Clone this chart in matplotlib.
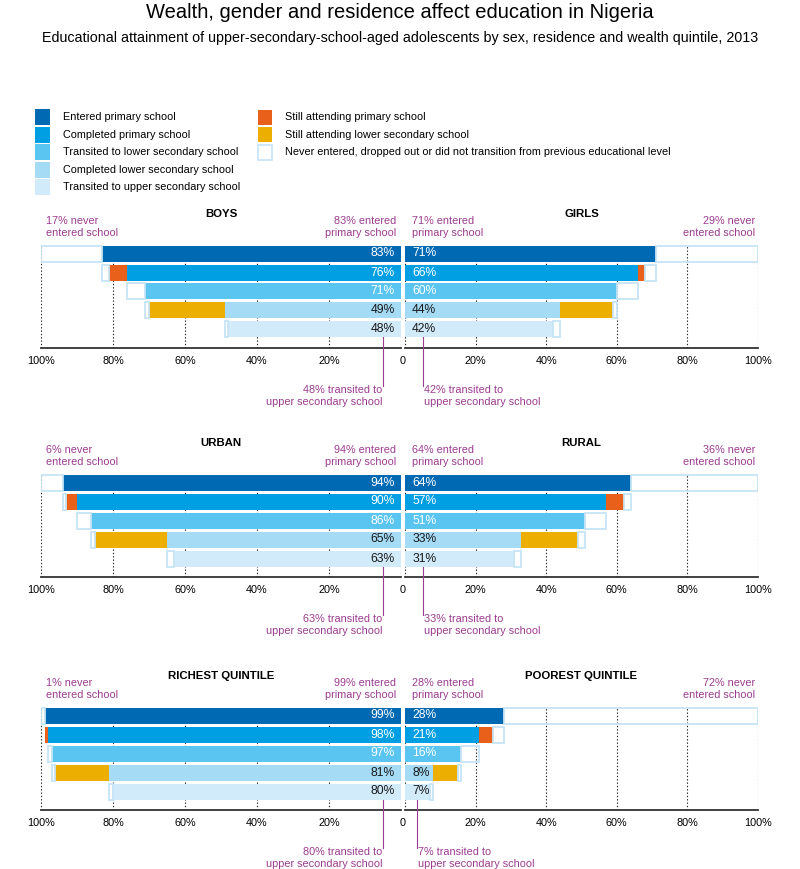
import matplotlib
matplotlib.use('Agg')
import matplotlib.pyplot as plt
from matplotlib.patches import Rectangle

plt.rcParams['font.family'] = ['Liberation Sans', 'DejaVu Sans']

# data (percent)
groups = ['BOYS', 'GIRLS', 'URBAN', 'RURAL', 'RICHEST QUINTILE', 'POOREST QUINTILE']
entered_primary = [83, 71, 94, 64, 99, 28]
completed_primary = [76, 66, 90, 57, 98, 21]
attending_primary = [5, 2, 3, 5, 1, 4]
transited_lower = [71, 60, 86, 51, 97, 16]
completed_lower = [49, 44, 65, 33, 81, 8]
attending_lower = [21, 15, 20, 16, 15, 7]
transited_upper = [48, 42, 63, 31, 80, 7]
# values as printed in the callouts under each panel
transited_note = [48, 42, 63, 33, 80, 7]

legend_left = ['Entered primary school', 'Completed primary school',
               'Transited to lower secondary school', 'Completed lower secondary school',
               'Transited to upper secondary school']
legend_right = ['Still attending primary school', 'Still attending lower secondary school',
                'Never entered, dropped out or did not transition from previous educational level']

C_STAGE = ['#0069b4', '#009fe3', '#5bc5f2', '#a6dbf6', '#d2ebfa']
C_PRIM = '#e9601a'
C_LOW = '#ecae00'
C_EDGE = '#c6e4f6'
PURPLE = '#9c3b90'

W, H = 800, 869
fig = plt.figure(figsize=(W / 100, H / 100), dpi=100)


def fx(x):
    return x / W


def fy(y):
    return 1 - y / H


fig.text(0.5, fy(12), 'Wealth, gender and residence affect education in Nigeria',
         ha='center', va='center', fontsize=14.5)
fig.text(0.5, fy(38), 'Educational attainment of upper-secondary-school-aged adolescents by sex, '
         'residence and wealth quintile, 2013', ha='center', va='center', fontsize=10.3)

# legend
for i, lab in enumerate(legend_left):
    yc = 117 + 17.6 * i
    fig.patches.append(Rectangle((fx(35), fy(yc + 8)), 15 / W, 16 / H, transform=fig.transFigure,
                                 facecolor=C_STAGE[i], edgecolor='none'))
    fig.text(fx(63), fy(yc), lab, ha='left', va='center', fontsize=7.8)
for i, lab in enumerate(legend_right):
    yc = 117 + 17.6 * i
    fc = [C_PRIM, C_LOW, 'white'][i]
    ec = C_EDGE if i == 2 else 'none'
    fig.patches.append(Rectangle((fx(258), fy(yc + 7.5)), 14 / W, 15 / H, transform=fig.transFigure,
                                 facecolor=fc, edgecolor=ec, linewidth=1.2))
    fig.text(fx(285), fy(yc), lab, ha='left', va='center', fontsize=7.8)

panel_tops = [245, 474, 707]
AX_H = 103
ROW = 19.0
YBOT = -4 - 18.5 / ROW
YTOP = 8.5 / ROW
BH = 16 / ROW


def draw_side(ax, g, left_side):
    ep, cp, ap = entered_primary[g], completed_primary[g], attending_primary[g]
    tl, cl, al, tu = transited_lower[g], completed_lower[g], attending_lower[g], transited_upper[g]
    rows = [
        (ep, [], 100),
        (cp, [(ap, C_PRIM)], ep),
        (tl, [], cp),
        (cl, [(al, C_LOW)], tl),
        (tu, [], cl),
    ]
    for x in [0, 20, 40, 60, 80, 100]:
        ax.axvline(x, color='#222222', linewidth=0.8, linestyle=(0, (1.2, 1.8)), zorder=0)
    for k, (val, extra, prev) in enumerate(rows):
        y = -k
        ax.barh(y, val, left=0, height=BH, color=C_STAGE[k], zorder=2)
        end = val
        for w, c in extra:
            ax.barh(y, w, left=end, height=BH, color=c, zorder=2)
            end += w
        if prev > end:
            ax.barh(y, prev - end, left=end, height=BH, facecolor='none',
                    edgecolor=C_EDGE, linewidth=1.3, zorder=3)
        tc = 'white' if k < 3 else '#1a1a1a'
        if left_side:
            ax.text(1.7, y, f'{val}%', ha='right', va='center', color=tc, fontsize=8.7, zorder=4)
        else:
            ax.text(2.0, y, f'{val}%', ha='left', va='center', color=tc, fontsize=8.7, zorder=4)
    ax.plot([0, 100], [YBOT, YBOT], color='#333333', linewidth=1.3, clip_on=False, zorder=5)
    # pointer line to the upper secondary bar
    xl = min(5, tu / 2)
    ax.plot([xl, xl], [-4 - BH / 2, YBOT - 38 / ROW], color=PURPLE, linewidth=0.8,
            clip_on=False, zorder=5)
    ax.set_xlim(0, 100)
    if left_side:
        ax.invert_xaxis()
    ax.set_ylim(YBOT, YTOP)
    ax.set_yticks([])
    ticks = [100, 80, 60, 40, 20] if left_side else [20, 40, 60, 80, 100]
    ax.set_xticks(ticks)
    ax.set_xticklabels([f'{t}%' for t in ticks], fontsize=7.8)
    ax.tick_params(axis='x', length=0, pad=6)
    for s in ax.spines.values():
        s.set_visible(False)
    ax.patch.set_visible(False)
    return xl


for p in range(3):
    top = panel_tops[p]
    base = top + AX_H
    axl = fig.add_axes([fx(41), fy(base), 360 / W, AX_H / H])
    axr = fig.add_axes([fx(405), fy(base), 353 / W, AX_H / H])
    gl, gr = 2 * p, 2 * p + 1
    xl_l = draw_side(axl, gl, True)
    xl_r = draw_side(axr, gr, False)
    fig.text(fx(403), fy(base + 13), '0', ha='center', va='center', fontsize=7.8)

    axl.set_title(groups[gl], fontsize=8.2, fontweight='bold', pad=0, y=1 + 28 / AX_H)
    axr.set_title(groups[gr], fontsize=8.2, fontweight='bold', pad=0, y=1 + 28 / AX_H)

    ya = fy(top - 18)
    fig.text(fx(46), ya, f'{100 - entered_primary[gl]}% never\nentered school', ha='left',
             va='center', color=PURPLE, fontsize=7.8, linespacing=1.2)
    fig.text(fx(396), ya, f'{entered_primary[gl]}% entered\nprimary school', ha='right',
             va='center', color=PURPLE, fontsize=7.8, linespacing=1.2)
    fig.text(fx(412), ya, f'{entered_primary[gr]}% entered\nprimary school', ha='left',
             va='center', color=PURPLE, fontsize=7.8, linespacing=1.2)
    fig.text(fx(755), ya, f'{100 - entered_primary[gr]}% never\nentered school', ha='right',
             va='center', color=PURPLE, fontsize=7.8, linespacing=1.2)

    yb = fy(base + 48)
    xpl = axl.transData.transform((xl_l, 0))[0] / W
    xpr = axr.transData.transform((xl_r, 0))[0] / W
    fig.text(xpl - 1 / W, yb, f'{transited_note[gl]}% transited to\nupper secondary school',
             ha='right', va='center', color=PURPLE, fontsize=7.8, linespacing=1.25)
    fig.text(xpr + 1 / W, yb, f'{transited_note[gr]}% transited to\nupper secondary school',
             ha='left', va='center', color=PURPLE, fontsize=7.8, linespacing=1.25)

fig.savefig('out.png', dpi=100)
